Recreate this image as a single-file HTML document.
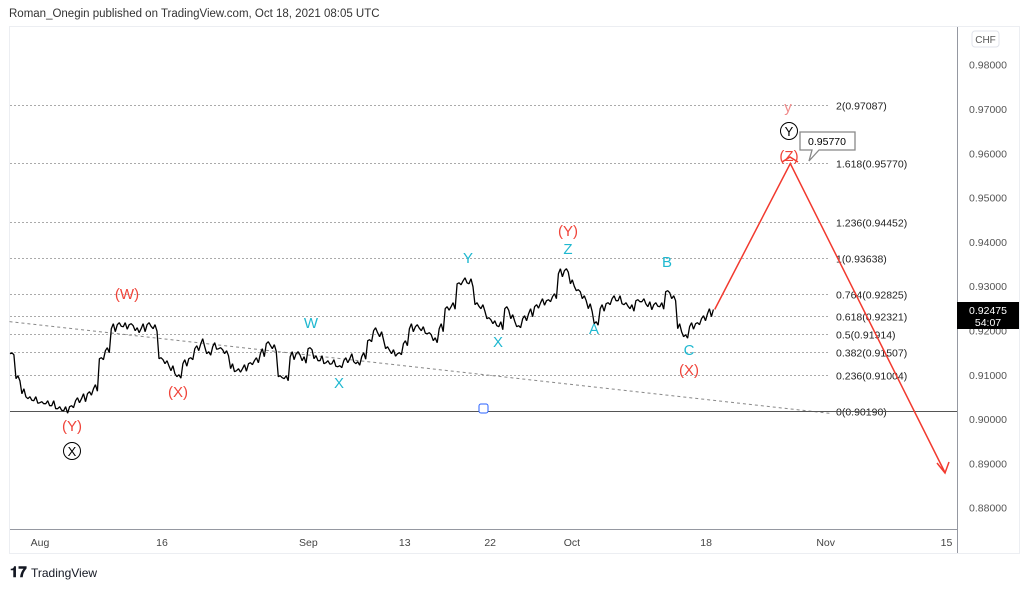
<!DOCTYPE html>
<html><head><meta charset="utf-8"><style>
body{margin:0;width:1024px;height:587px;background:#fff;overflow:hidden;font-family:"Liberation Sans",sans-serif;}
svg text{font-family:"Liberation Sans",sans-serif;}
</style></head><body>
<svg id="c" width="1024" height="587">
<text x="9" y="17" font-size="11.5" fill="#333">Roman_Onegin published on TradingView.com, Oct 18, 2021 08:05 UTC</text>
<rect x="9.5" y="26.5" width="1010" height="527" fill="none" stroke="#eceef2"/>
<line x1="957.5" y1="27" x2="957.5" y2="553" stroke="#9598a1"/>
<line x1="10" y1="529.5" x2="957" y2="529.5" stroke="#9598a1"/>
<rect x="972" y="31" width="27" height="16" rx="3" fill="#fff" stroke="#e0e3eb"/>
<text x="985.5" y="43" font-size="10" fill="#555" text-anchor="middle">CHF</text>
<g id="yax"></g><g id="xax"></g><g id="fib"></g>
<line id="trend" stroke="#888" stroke-dasharray="3,3" stroke-width="1"/>
<line id="base" stroke="#555" stroke-width="1"/>
<rect x="479" y="404" width="9" height="9" rx="2" fill="#fff" stroke="#2962ff"/>
<path id="price" fill="none" stroke="#000" stroke-width="1.3" stroke-linejoin="bevel"/>
<polyline id="proj" fill="none" stroke="#f23a2f" stroke-width="1.5"/>
<polyline points="937,463 945,473 949,462" fill="none" stroke="#f23a2f" stroke-width="1.5"/>
<polyline points="782,162 790,157 798,162" fill="none" stroke="#f23a2f" stroke-width="1.5"/>
<g font-size="15">
<text x="127" y="299" fill="#f0443a" text-anchor="middle">(W)</text>
<text x="178" y="397" fill="#f0443a" text-anchor="middle">(X)</text>
<text x="72" y="431" fill="#f0443a" text-anchor="middle">(Y)</text>
<text x="568" y="236" fill="#f0443a" text-anchor="middle">(Y)</text>
<text x="689" y="375" fill="#f0443a" text-anchor="middle">(X)</text>
<text x="789" y="161" fill="#f0443a" text-anchor="middle">(Z)</text>
<text x="788" y="112" fill="#f08a8a" text-anchor="middle">y</text>
<text x="311" y="328" fill="#1fb8d0" text-anchor="middle">W</text>
<text x="339" y="388" fill="#1fb8d0" text-anchor="middle">X</text>
<text x="468" y="263" fill="#1fb8d0" text-anchor="middle">Y</text>
<text x="498" y="347" fill="#1fb8d0" text-anchor="middle">X</text>
<text x="568" y="254" fill="#1fb8d0" text-anchor="middle">Z</text>
<text x="594" y="334" fill="#1fb8d0" text-anchor="middle">A</text>
<text x="667" y="267" fill="#1fb8d0" text-anchor="middle">B</text>
<text x="689" y="355" fill="#1fb8d0" text-anchor="middle">C</text>
</g>
<circle cx="72" cy="451" r="8.5" fill="#fff" stroke="#000"/>
<text x="72" y="456" font-size="13" text-anchor="middle">X</text>
<circle cx="789" cy="131" r="8.5" fill="#fff" stroke="#000"/>
<text x="789" y="136" font-size="13" text-anchor="middle">Y</text>
<path d="M800,132 h55 v18 h-36 l-10,11 l3,-11 h-12 z" fill="#fff" stroke="#888" stroke-width="1.3"/>
<text x="827" y="145" font-size="10.5" text-anchor="middle" fill="#000">0.95770</text>
<rect x="957" y="302" width="62" height="27" fill="#000"/>
<text x="988" y="314" font-size="10.5" fill="#fff" text-anchor="middle">0.92475</text>
<text x="988" y="326" font-size="10.5" fill="#fff" text-anchor="middle">54:07</text>
<text x="10" y="577" font-size="15" font-weight="bold" fill="#131722">𝟏𝟕</text>
<text x="31" y="577" font-size="12" fill="#131722">TradingView</text>
</svg>
<script>
const yTicks=[0.98,0.97,0.96,0.95,0.94,0.93,0.92,0.91,0.90,0.89,0.88];
const xLabels=["Aug","16","Sep","13","22","Oct","18","Nov","15"];
const xLabelPos=[0,10,22,29.9,36.9,43.6,54.6,64.4,74.3]; // trading-day index
const fibRatios=["2","1.618","1.236","1","0.764","0.618","0.5","0.382","0.236","0"];
const fibPrices=[0.97087,0.95770,0.94452,0.93638,0.92825,0.92321,0.91914,0.91507,0.91004,0.90190];
const prices=[0.91475,0.90911,0.90572,0.90460,0.90415,0.90370,0.90347,0.90302,0.90235,0.90190,0.90280,0.90415,0.90460,0.90573,0.90686,0.91363,0.91544,0.92040,0.92130,0.92085,0.92130,0.91995,0.92040,0.92130,0.92040,0.91363,0.91250,0.91092,0.90957,0.91250,0.91363,0.91589,0.91702,0.91476,0.91634,0.91589,0.91476,0.91137,0.91092,0.91137,0.91250,0.91318,0.91476,0.91702,0.91589,0.90957,0.90912,0.91409,0.91476,0.91318,0.91589,0.91363,0.91318,0.91273,0.91250,0.91182,0.91318,0.91363,0.91250,0.91408,0.91770,0.91995,0.91860,0.91589,0.91476,0.91476,0.91702,0.92040,0.92085,0.91995,0.91928,0.91770,0.92040,0.92491,0.92537,0.93055,0.93123,0.93055,0.92582,0.92491,0.92266,0.92153,0.92085,0.92491,0.92266,0.92085,0.92266,0.92379,0.92537,0.92627,0.92672,0.92762,0.93281,0.93349,0.93055,0.92898,0.92717,0.92491,0.92153,0.92491,0.92604,0.92717,0.92672,0.92582,0.92491,0.92672,0.92650,0.92537,0.92582,0.92537,0.92876,0.92717,0.92040,0.91860,0.92085,0.92153,0.92266,0.92379,0.92475];
const proj=[[0.92475,55.3],[0.95770,61.5],[0.88783,74.2]];
const trend=[[0.92200,-2.5],[0.90130,64.75]];
const seriesEndDay=55.2;
const yS=p=>109+(0.97-p)*4430;
const xD=d=>40+d*12.2;
const NS="http://www.w3.org/2000/svg";
function mk(parent,tag,attrs,txt){const e=document.createElementNS(NS,tag);for(const k in attrs)e.setAttribute(k,attrs[k]);if(txt!=null)e.textContent=txt;document.getElementById(parent).appendChild(e);return e;}
yTicks.forEach(t=>{const e=mk('yax','text',{x:988,y:yS(t)+4,"font-size":10.5,fill:"#555","text-anchor":"middle"},t.toFixed(5));

});
xLabels.forEach((l,i)=>{const e=mk('xax','text',{x:xD(xLabelPos[i]),y:546,"font-size":10.5,fill:"#444","text-anchor":"middle"},l);

});
fibPrices.forEach((p,i)=>{const y=Math.round(yS(p))+0.5;
const l=mk('fib','line',{x1:10,x2:830,y1:y,y2:y,stroke:"#aaa","stroke-dasharray":"2,2"});


const t=mk('fib','text',{x:836,y:y+4,"font-size":10.5,fill:"#222"},fibRatios[i]+"("+p.toFixed(5)+")");

});
const yb=Math.round(yS(fibPrices[9]))+0.5;
const b=document.getElementById('base');b.setAttribute('x1',10);b.setAttribute('x2',957);b.setAttribute('y1',yb);b.setAttribute('y2',yb);
const tr=document.getElementById('trend');tr.setAttribute('x1',xD(trend[0][1]));tr.setAttribute('y1',yS(trend[0][0]));tr.setAttribute('x2',xD(trend[1][1]));tr.setAttribute('y2',yS(trend[1][0]));
let d="";const step=(xD(seriesEndDay)-10)/(prices.length-1);
prices.forEach((p,i)=>{const x=10+i*step,y=yS(p);const w=((i*7)%5)-2;
d+=(i?"L":"M")+x.toFixed(1)+","+y.toFixed(1);
if(i<prices.length-1)d+="L"+(x+step*0.33).toFixed(1)+","+(y-3-w).toFixed(1)+"L"+(x+step*0.66).toFixed(1)+","+(y+2+w*0.5).toFixed(1);});
document.getElementById('price').setAttribute('d',d);
document.getElementById('proj').setAttribute('points',proj.map(q=>xD(q[1]).toFixed(1)+","+yS(q[0]).toFixed(1)).join(" "));
</script>
</body></html>
